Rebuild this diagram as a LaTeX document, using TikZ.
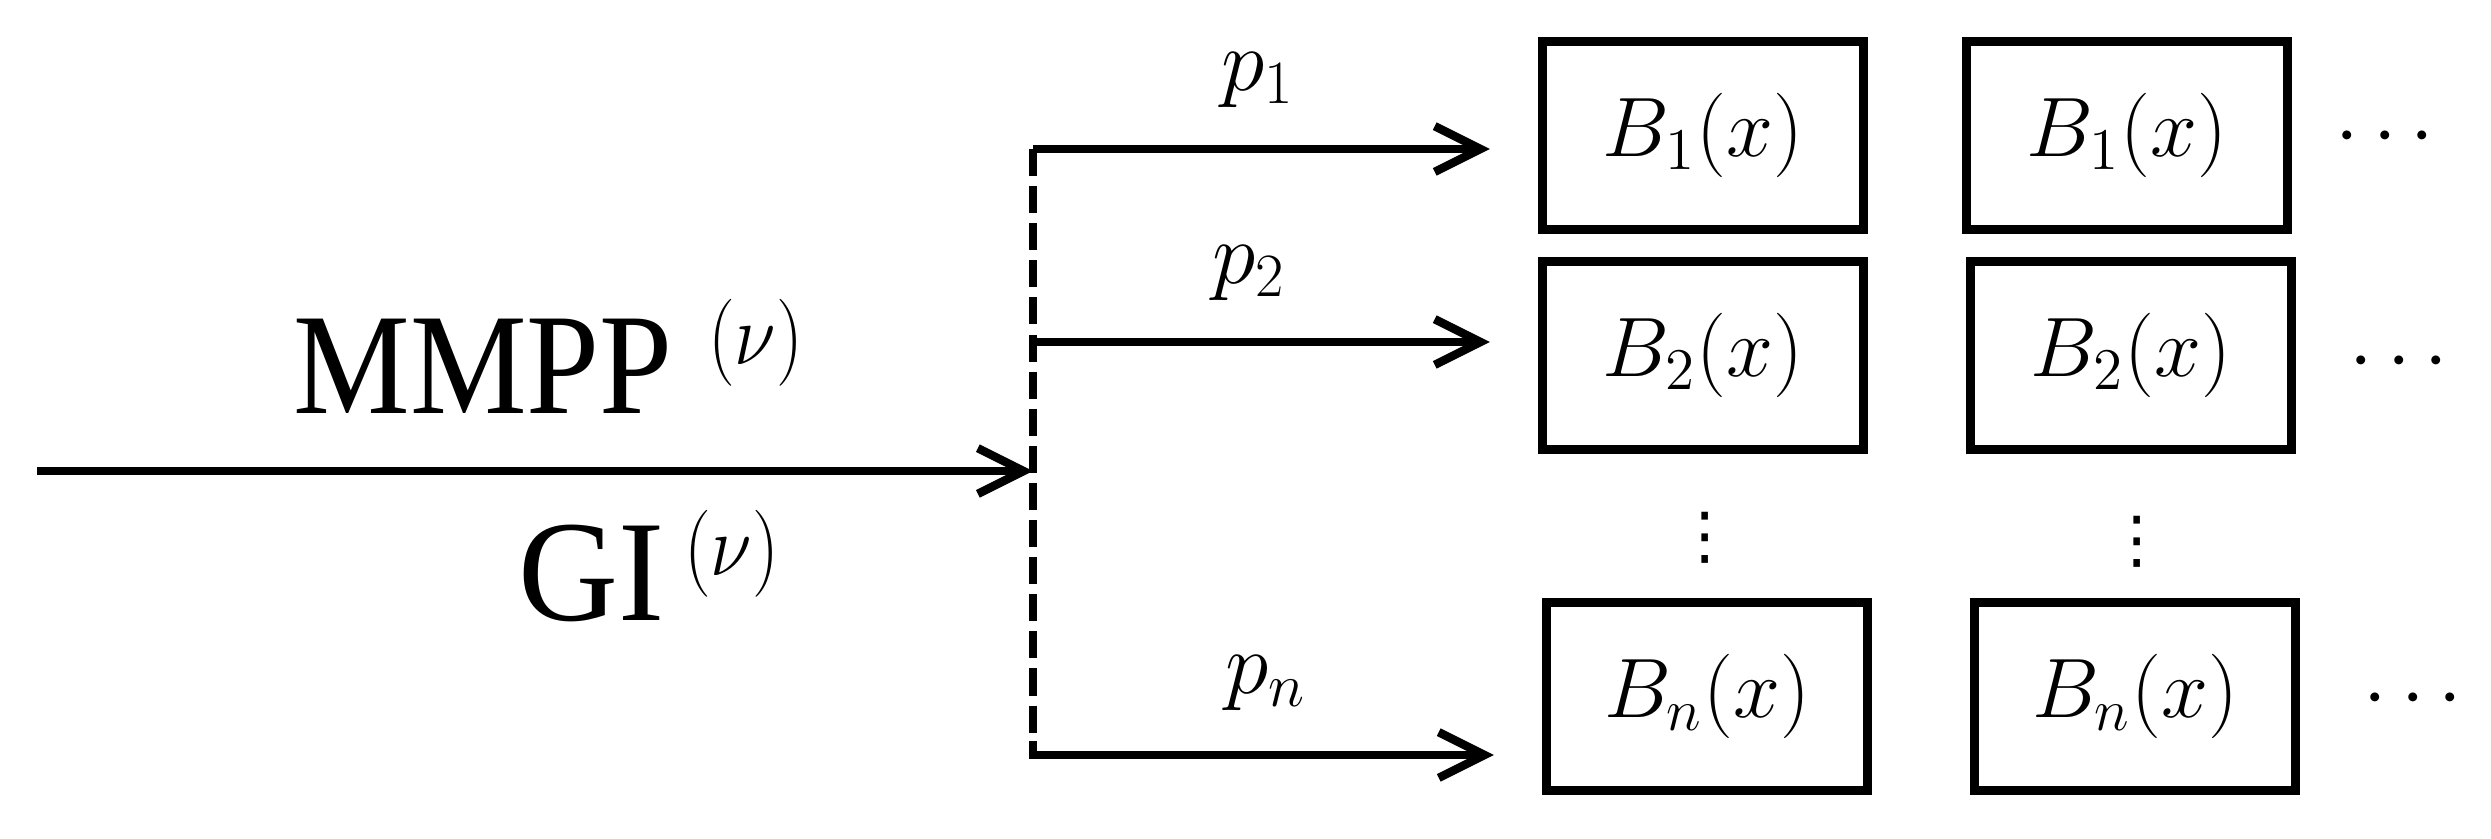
\RequirePackage{fix-cm}
\documentclass[tikz,border=0pt]{standalone}
\usepackage{fontspec}
\usepackage{graphicx}
\newfontfamily\tnr{Liberation Serif}
\newfontfamily\dvs{DejaVu Sans}
\usetikzlibrary{arrows.meta}
\newcommand{\supnu}{\fontsize{24.75}{25}\selectfont\scalebox{0.87}[1]{$(\nu)$}}
\begin{document}
\begin{tikzpicture}[x=0.01cm,y=-0.01cm,
  box/.style={draw, line width=2.56pt, minimum width=3.21cm, minimum height=1.88cm, inner sep=0pt, font=\fontsize{24}{24}\selectfont},
  arr/.style={line width=2.4pt, -{Straight Barb[length=13pt,width=13pt,line width=2.4pt]}},
  lab/.style={anchor=base, inner sep=0pt, font=\fontsize{25}{25}\selectfont},
  big/.style={anchor=base west, inner sep=0pt, font=\tnr\fontsize{41}{41}\selectfont},
  hdots/.style={anchor=base west, inner sep=0pt, font=\fontsize{24}{24}\selectfont},
  vdotsn/.style={anchor=center, inner sep=0pt, font=\dvs\fontsize{18}{18}\selectfont}]
\useasboundingbox (0,0) rectangle (2491,838);

% boxes
\node[box] (a1) at (1703,135.5) {$B_1(x)$};
\node[box] (a2) at (1703,355.5) {$B_2(x)$};
\node[box] (an) at (1707,696.5) {$B_n(x)$};
\node[box] (c1) at (2127,135.5) {$B_1(x)$};
\node[box] (c2) at (2131,355.5) {$B_2(x)$};
\node[box] (cn) at (2135,696.5) {$B_n(x)$};

% coordinates
\coordinate (in) at (37,471);
\coordinate (j)  at (1033,471);
\coordinate (t1) at (1033,149);
\coordinate (t2) at (1033,342);
\coordinate (tn) at (1033,755);
\coordinate (tc) at (1033,741);

% splitter (dashed)
\draw[line width=2.4pt, dash pattern=on 7.7pt off 2.85pt] (t1) -- (tc);

% arrows
\draw[arr] (in) -- (j);
\draw[arr, shorten >=0.48cm] (t1) -- (t1 -| a1.west);
\draw[arr, shorten >=0.48cm] (t2) -- (t2 -| a2.west);
\draw[arr, shorten >=0.48cm] (tc) -- (tn) -- (tn -| an.west);

% labels
\node[lab] (p1) at (1258,90) {$p_1$};
\node[lab] (p2) at (1249,283) {$p_2$};
\node[lab] (pn) at (1266,693) {$p_n$};

\node[big] (mmpp) at (293,413) {\scalebox{0.91}[1]{MMPP}\hspace{10pt}\raisebox{13.7pt}{\supnu}};
\node[big] (gi) at (518,620) {\scalebox{0.96}[1]{GI}\hspace{5.5pt}\raisebox{12.8pt}{\supnu}};

% continuation dots
\node[hdots] (d1) at (2335,156) {$\cdots$};
\node[hdots] (d2) at (2349,381) {$\cdots$};
\node[hdots] (dn) at (2363,718) {$\cdots$};
\node[vdotsn] (v1) at (1705,538) {⋮};
\node[vdotsn] (v2) at (2137,542) {⋮};
\end{tikzpicture}
\end{document}
